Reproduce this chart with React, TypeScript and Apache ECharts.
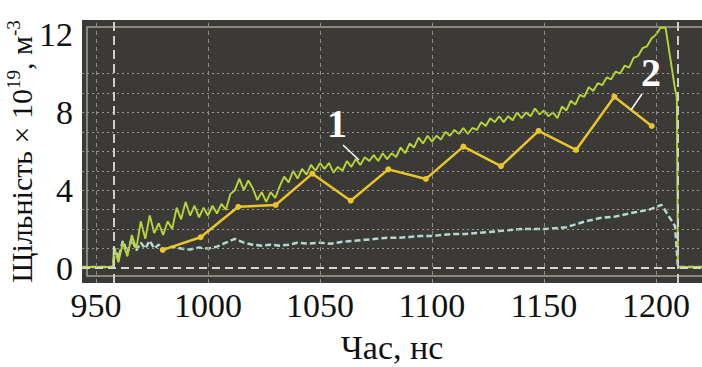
import React, { useEffect, useRef } from "react";
import * as echarts from "echarts";

const FONT = "Liberation Serif";

// axis ticks / grid
const xTicks = [950, 1000, 1050, 1100, 1150, 1200];
const yTicks = [0, 4, 8, 12];
const hGridValues = [1, 2, 3, 4, 5, 6, 7, 8, 9, 10];
const cursorTimes = [958, 1209.8];
const baselineValue = 0;

// curve 1 (noisy yellow-green), sampled every 2 ns from 958 ns
const c1Start = 958;
const c1Step = 2;
const c1Values = [
  1.1, 0.3, 1.3, 0.6, 1.7, 1.0, 2.4, 1.5, 2.7, 1.8,
  2.3, 1.7, 2.4, 2.0, 3.1, 2.5, 3.4, 2.7, 3.2, 2.6,
  3.1, 2.7, 3.2, 2.8, 3.3, 3.0, 3.8, 4.0, 4.6, 4.0,
  4.5, 4.1, 3.5, 3.9, 3.4, 3.9, 3.6, 4.2, 4.7, 4.4,
  5.0, 4.6, 5.1, 4.8, 5.3, 5.0, 5.4, 5.1, 5.4, 4.9,
  5.2, 5.0, 5.5, 5.2, 5.6, 5.3, 5.7, 5.5, 5.8, 5.5,
  5.9, 5.6, 5.9, 5.7, 6.2, 5.9, 6.4, 6.2, 6.7, 6.4,
  6.8, 6.5, 6.8, 6.6, 7.0, 6.8, 7.1, 6.9, 7.2, 6.9,
  7.2, 7.1, 7.5, 7.3, 7.7, 7.5, 7.8, 7.5, 7.8, 7.6,
  8.0, 7.7, 8.0, 7.8, 8.2, 7.9, 8.1, 7.8, 8.0, 7.7,
  8.3, 8.1, 8.6, 8.4, 8.9, 8.8, 9.3, 9.1, 9.5, 9.4,
  9.8, 9.7, 10.1, 10.0, 10.4, 10.3, 10.8, 10.9, 11.3, 11.4,
  11.8, 12.0, 12.35,
];
const c1Head = [
  [943.75, 0.05],
  [957.6, 0.05],
];
const c1Tail = [
  [1203.5, 12.35],
  [1204.3, 12.35],
  [1208.5, 9.2],
  [1209.3, 8.8],
  [1209.8, 0.05],
  [1221, 0.05],
];

// curve 2 (yellow, markers)
const c2Times = [979.8, 996.7, 1013.5, 1030.2, 1046.6, 1063.7, 1080.5, 1097.3, 1114, 1130.8, 1147.6, 1164.3, 1181.4, 1198.1];
const c2Values = [0.93, 1.58, 3.15, 3.24, 4.85, 3.46, 5.07, 4.58, 6.24, 5.24, 7.05, 6.07, 8.81, 7.3];

// curve 3 (light dashed)
const c3Times = [
  943.75, 957.6, 958.5, 960, 962, 964, 966, 968, 970, 972, 974, 976, 978, 980,
  984, 988, 992, 996, 1000, 1004, 1008, 1012, 1016, 1020, 1024, 1028, 1032, 1036,
  1040, 1045, 1050, 1055, 1060, 1065, 1070, 1075, 1080, 1085, 1090, 1095, 1100,
  1105, 1110, 1115, 1120, 1125, 1130, 1135, 1140, 1145, 1150, 1155, 1160, 1168,
  1175, 1182, 1190, 1197, 1202.5, 1208.5, 1209.8, 1221,
];
const c3Values = [
  0.05, 0.05, 1.0, 0.5, 1.4, 0.8, 1.5, 0.9, 1.3, 1.0, 1.4, 1.0, 1.2, 0.95,
  1.1, 1.0, 0.95, 1.05, 1.0, 1.1, 1.3, 1.5, 1.3, 1.2, 1.15, 1.2, 1.15, 1.2,
  1.3, 1.25, 1.3, 1.25, 1.35, 1.4, 1.45, 1.5, 1.55, 1.55, 1.6, 1.65, 1.65,
  1.7, 1.75, 1.75, 1.8, 1.85, 1.9, 1.95, 2.0, 2.0, 2.0, 2.05, 2.1, 2.38,
  2.57, 2.65, 2.85, 3.0, 3.25, 2.15, 0.05, 0.05,
];

const tickRich = {
  n: { fontFamily: FONT, fontSize: 34, color: "#111", lineHeight: 36 },
};

export default function App() {
  const ref = useRef<HTMLDivElement>(null);

  useEffect(() => {
    if (!ref.current) return;
    const chart = echarts.init(ref.current, null, { renderer: "svg" });

    const c1Data = [
      ...c1Head,
      ...c1Values.map((v, i) => [c1Start + i * c1Step, v]),
      ...c1Tail,
    ];
    const c2Data = c2Times.map((t, i) => [t, c2Values[i]]);
    const c3Data = c3Times.map((t, i) => [t, c3Values[i]]);

    const gridLines: any[] = [
      ...hGridValues.map((v) => ({
        yAxis: v,
        lineStyle: { color: "#9b9a8e", width: 1, type: [2, 3] },
      })),
      ...xTicks.map((t) => ({
        xAxis: t,
        lineStyle: { color: "#8f8e84", width: 1, type: [4, 4] },
      })),
      ...cursorTimes.map((t) => ({
        xAxis: t,
        lineStyle: { color: "#cfcfc6", width: 2, type: [9, 5] },
      })),
      {
        yAxis: baselineValue,
        lineStyle: { color: "#d6d6ce", width: 2, type: [8, 5] },
      },
    ];

    chart.setOption({
      animation: false,
      backgroundColor: "#ffffff",
      textStyle: { fontFamily: FONT },
      grid: {
        left: 82,
        right: 0,
        top: 20,
        bottom: 84,
        outerBoundsMode: "none",
        containLabel: false,
        show: true,
        backgroundColor: "#3b3a36",
        borderWidth: 0,
      },
      xAxis: {
        type: "value",
        min: 943.75,
        max: 1220.54,
        axisLine: { show: false },
        axisTick: { show: false },
        splitLine: { show: false },
        axisLabel: {
          customValues: xTicks,
          formatter: (v: number) => `{n|${v}}`,
          rich: tickRich,
          fontFamily: FONT,
          fontSize: 34,
          color: "#111",
          margin: 4,
        },
        name: "Час, нс",
        nameLocation: "middle",
        nameGap: 47,
        nameMoveOverlap: false,
        nameTextStyle: { fontFamily: FONT, fontSize: 34, color: "#111" },
      },
      yAxis: {
        type: "value",
        min: -0.771,
        max: 12.751,
        axisLine: { show: false },
        axisTick: { show: false },
        splitLine: { show: false },
        axisLabel: {
          customValues: yTicks,
          formatter: (v: number) => `{n|${v}}`,
          rich: tickRich,
          fontFamily: FONT,
          fontSize: 34,
          color: "#111",
          margin: 9,
        },
        name: "{t|Щільність × 10}{s|19}{t|, м}{s|-3}",
        nameLocation: "middle",
        nameGap: 44,
        nameMoveOverlap: false,
        nameTextStyle: {
          fontFamily: FONT,
          fontSize: 30,
          color: "#111",
          rich: {
            t: { fontFamily: FONT, fontSize: 30, color: "#111", lineHeight: 34 },
            s: { fontFamily: FONT, fontSize: 19, color: "#111", verticalAlign: "top", lineHeight: 34, padding: [0, 0, 12, 0] },
          },
        },
      },
      graphic: [
        {
          type: "rect",
          silent: true,
          z: 1,
          shape: { x: 87, y: 27, width: 700, height: 249 },
          style: { fill: "none", stroke: "#a3a297", lineWidth: 1.5 },
        },
        {
          type: "text",
          z: 10,
          x: 337,
          y: 123,
          style: {
            text: "1",
            fill: "#ffffff",
            fontFamily: FONT,
            fontWeight: "bold",
            fontSize: 40,
            align: "center",
            verticalAlign: "middle",
          },
        },
        {
          type: "line",
          z: 10,
          shape: { x1: 343, y1: 145, x2: 359, y2: 160 },
          style: { stroke: "#ffffff", lineWidth: 1.5 },
        },
        {
          type: "text",
          z: 10,
          x: 651,
          y: 72,
          style: {
            text: "2",
            fill: "#ffffff",
            fontFamily: FONT,
            fontWeight: "bold",
            fontSize: 40,
            align: "center",
            verticalAlign: "middle",
          },
        },
        {
          type: "line",
          z: 10,
          shape: { x1: 642, y1: 94, x2: 631, y2: 110 },
          style: { stroke: "#ffffff", lineWidth: 1.5 },
        },
      ],
      series: [
        {
          type: "line",
          data: [],
          z: 1,
          silent: true,
          markLine: {
            silent: true,
            symbol: ["none", "none"],
            label: { show: false },
            data: gridLines,
          },
        },
        {
          type: "line",
          data: c3Data,
          z: 3,
          showSymbol: false,
          lineStyle: { color: "#b3d8d2", width: 2.5, type: [6, 3] },
        },
        {
          type: "line",
          data: c1Data,
          z: 4,
          showSymbol: false,
          lineStyle: { color: "#b8d636", width: 1.9 },
        },
        {
          type: "line",
          data: c2Data,
          z: 5,
          symbol: "circle",
          symbolSize: 6,
          lineStyle: { color: "#e9c42c", width: 2.5 },
          itemStyle: { color: "#e9c42c" },
        },
      ],
    });

    return () => chart.dispose();
  }, []);

  return (
    <div
      ref={ref}
      style={{ position: "absolute", left: 0, top: 0, width: 702, height: 367 }}
    />
  );
}
